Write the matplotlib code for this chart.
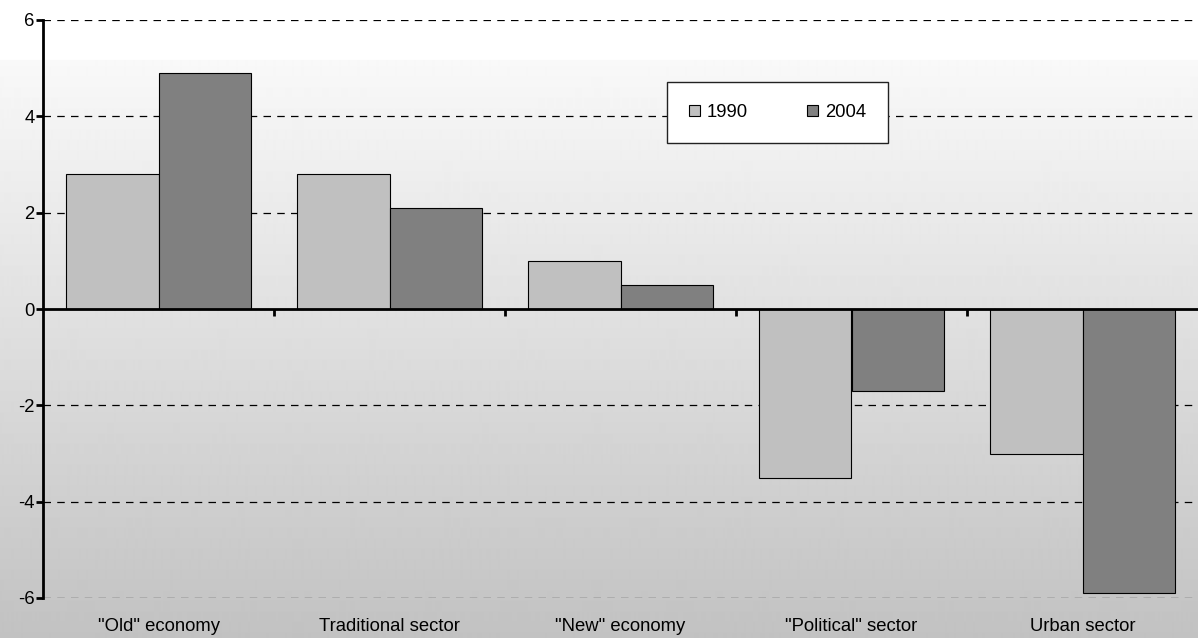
import numpy as np
import matplotlib
matplotlib.use("Agg")
from matplotlib import pyplot as plt
from matplotlib.transforms import blended_transform_factory

plt.rcParams['font.family'] = ['Liberation Sans', 'DejaVu Sans']

categories = ['"Old" economy', 'Traditional sector', '"New" economy',
              '"Political" sector', 'Urban sector']
years = ['1990', '2004']
values_1990 = [2.8, 2.8, 1.0, -3.5, -3.0]
values_2004 = [4.9, 2.1, 0.5, -1.7, -5.9]
bar_colors = ['#c0c0c0', '#808080']
y_ticks = [-6, -4, -2, 0, 2, 4, 6]

FS = 13.3

fig = plt.figure(figsize=(11.98, 6.38), dpi=100)

# vertical grey gradient behind everything
bg = fig.add_axes([0, 0, 1, 1], zorder=-10)
rows = 638
shade = np.ones(rows)
start = 60
shade[start:] = np.linspace(0.975, 0.76, rows - start)
bg.imshow(np.repeat(shade[:, None], 2, axis=1), cmap='gray', vmin=0, vmax=1,
          aspect='auto', extent=[0, 1, 0, 1], interpolation='bilinear')
bg.axis('off')

ax = fig.add_axes([43 / 1198, 40 / 638, 1 - 43 / 1198, 578 / 638])
ax.patch.set_visible(False)

x = np.arange(len(categories))
width = 0.4
ax.bar(x - width / 2, values_1990, width, color=bar_colors[0],
       edgecolor='black', linewidth=0.8, label=years[0], zorder=3)
ax.bar(x + width / 2, values_2004, width, color=bar_colors[1],
       edgecolor='black', linewidth=0.8, label=years[1], zorder=3)

ax.set_xlim(-0.5, len(categories) - 0.5)
ax.set_ylim(-6, 6)

# dashed gridlines, solid axis line at zero
for t in y_ticks:
    if t != 0:
        ax.axhline(t, color='black', linestyle=(0, (6, 5)), linewidth=0.9, zorder=1)

ax.spines['top'].set_visible(False)
ax.spines['right'].set_visible(False)
ax.spines['bottom'].set_position(('data', 0))
ax.spines['bottom'].set_linewidth(2)
ax.spines['bottom'].set_zorder(4)
ax.spines['left'].set_linewidth(2)

ax.set_yticks(y_ticks)
ax.set_yticklabels([str(t) for t in y_ticks], fontsize=FS)
ax.tick_params(axis='y', direction='out', length=5, width=2, pad=1)

# boundary ticks on the zero line, category names at the bottom
ax.set_xticks(x[:-1] + 0.5)
ax.set_xticklabels([])
ax.tick_params(axis='x', direction='out', length=5, width=2)
trans = blended_transform_factory(ax.transData, ax.transAxes)
for xi, name in zip(x, categories):
    ax.text(xi, -0.05, name, transform=trans, ha='center', va='center',
            fontsize=FS)

leg = ax.legend(loc='center', bbox_to_anchor=(0.636, 0.840), ncol=2,
                fontsize=FS, fancybox=False, framealpha=1,
                edgecolor='#222222', handlelength=0.6, handleheight=0.6,
                handletextpad=0.35, columnspacing=3.2, borderpad=1.2)
leg.get_frame().set_linewidth(1)
for h in leg.legend_handles:
    h.set_linewidth(0.8)

fig.savefig('out.png', dpi=100)
